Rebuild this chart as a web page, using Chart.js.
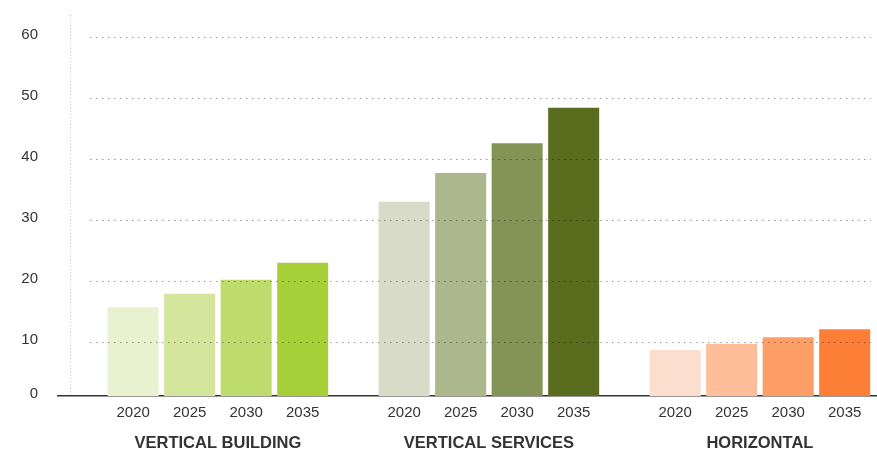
<!DOCTYPE html>
<html>
<head>
<meta charset="utf-8">
<script src="https://cdn.jsdelivr.net/npm/chart.js@4"></script>
<style>
  body { margin: 0; background: #fff; }
</style>
</head>
<body>
<canvas id="myChart" width="877" height="450"></canvas>
<script>
var groups = ["VERTICAL BUILDING", "VERTICAL SERVICES", "HORIZONTAL"];
var years = ["2020", "2025", "2030", "2035"];

var values2020 = [15.7, 33.0, 8.7];
var values2025 = [17.9, 37.7, 9.7];
var values2030 = [20.2, 42.6, 10.8];
var values2035 = [23.0, 48.4, 12.1];

var yTicks = [0, 10, 20, 30, 40, 50, 60];

// one colour per group, per year
var colors2020 = ["#e8f1d0", "#d7dbc8", "#fddfcf"];
var colors2025 = ["#d3e69b", "#adb78c", "#fdbe99"];
var colors2030 = ["#bedb6d", "#849457", "#fd9e67"];
var colors2035 = ["#a7cf37", "#5a6d1f", "#fd7e36"];

var allValues = [values2020, values2025, values2030, values2035];
var allColors = [colors2020, colors2025, colors2030, colors2035];

var catPct = 0.834;
var barPct = 0.903;
var xMin = -0.59, xMax = 2.432;

var datasets = years.map(function (yr, j) {
    return {
        label: yr,
        data: allValues[j].map(function (v, i) { return { x: i, y: v }; }),
        backgroundColor: allColors[j],
        categoryPercentage: catPct,
        barPercentage: barPct,
    };
});

// dotted grid drawn on top of the bars, plus the dotted axis line
var dottedGrid = {
    id: "dottedGrid",
    afterDatasetsDraw: function (chart) {
        var ctx = chart.ctx, area = chart.chartArea, y = chart.scales.y;
        ctx.save();
        ctx.lineWidth = 1;
        ctx.strokeStyle = "rgba(0,0,0,0.4)";
        ctx.setLineDash([1.5, 4.5]);
        yTicks.slice(1).forEach(function (v) {
            var py = Math.round(y.getPixelForValue(v)) + 0.5;
            ctx.beginPath();
            ctx.moveTo(area.left + 32, py);
            ctx.lineTo(area.right - 6, py);
            ctx.stroke();
        });
        ctx.strokeStyle = "rgba(0,0,0,0.25)";
        ctx.setLineDash([1, 2.3]);
        ctx.beginPath();
        ctx.moveTo(area.left + 12.5, 15);
        ctx.lineTo(area.left + 12.5, area.bottom);
        ctx.stroke();
        ctx.restore();
    }
};

var ctx = document.getElementById("myChart");

var myChart = new Chart(ctx, {
    type: "bar",
    data: { datasets: datasets },
    plugins: [dottedGrid],
    options: {
        responsive: false,
        animation: false,
        devicePixelRatio: 1,
        layout: { padding: { top: 37, right: 0, left: 0, bottom: 0 } },
        plugins: { legend: { display: false }, tooltip: { enabled: false } },
        scales: {
            x: {
                type: "linear",
                position: "bottom",
                offset: false,
                weight: 1,
                min: xMin,
                max: xMax,
                grid: { display: false, drawTicks: false, offset: false },
                border: { display: false },
                afterBuildTicks: function (scale) {
                    scale.ticks = groups.map(function (g, i) { return { value: i }; });
                },
                afterFit: function (scale) { scale.height = 26; },
                ticks: {
                    autoSkip: false,
                    maxRotation: 0,
                    padding: 10,
                    color: "#333",
                    font: { family: "'Liberation Sans', Arial, sans-serif", size: 16.5, weight: "bold" },
                    callback: function (v, i) { return groups[i]; }
                }
            },
            years: {
                type: "linear",
                position: "bottom",
                offset: false,
                weight: 0,
                min: xMin,
                max: xMax,
                grid: { color: "transparent", drawOnChartArea: false, drawTicks: false, offset: false },
                border: { display: true, color: "#333", width: 1.5 },
                afterBuildTicks: function (scale) {
                    var t = [];
                    groups.forEach(function (g, i) {
                        years.forEach(function (yr, j) {
                            t.push({ value: i + (j - 1.5) * catPct / years.length });
                        });
                    });
                    scale.ticks = t;
                },
                afterFit: function (scale) { scale.height = 28; },
                ticks: {
                    autoSkip: false,
                    maxRotation: 0,
                    padding: 8,
                    color: "#333",
                    font: { family: "'Liberation Sans', Arial, sans-serif", size: 15 },
                    callback: function (v, i) { return years[i % years.length]; }
                }
            },
            y: {
                min: 1.15,
                max: 60,
                grid: { display: false, drawTicks: false },
                border: { display: false },
                afterBuildTicks: function (scale) {
                    scale.ticks = yTicks.map(function (v) { return { value: Math.max(v, scale.min) }; });
                },
                afterFit: function (scale) { scale.width = 58; },
                ticks: {
                    padding: 20,
                    labelOffset: -2,
                    color: "#333",
                    font: { family: "'Liberation Sans', Arial, sans-serif", size: 15 },
                    callback: function (v, i) { return yTicks[i]; }
                }
            }
        }
    }
});
</script>
</body>
</html>
